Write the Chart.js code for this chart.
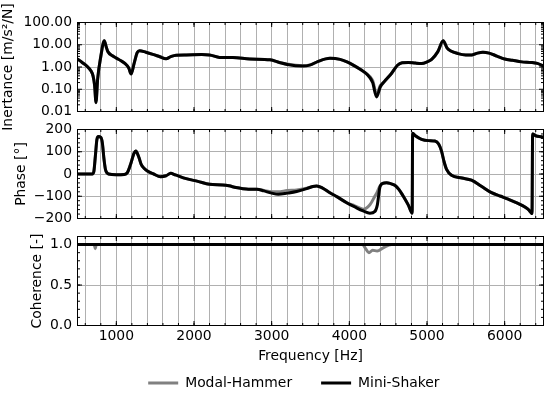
<!DOCTYPE html>
<html>
<head>
<meta charset="utf-8">
<script src="https://cdn.jsdelivr.net/npm/chart.js@4"></script>
<style>
  html, body { margin: 0; padding: 0; background: #fff; overflow: hidden; width: 550px; height: 394px; }
  canvas { position: absolute; left: 0; }
</style>
</head>
<body>
<canvas id="inertance" width="550" height="145" style="top:0px"></canvas>
<canvas id="phase" width="550" height="106" style="top:120px"></canvas>
<canvas id="coherence" width="550" height="174" style="top:226px"></canvas>
<script>
// FRF comparison plot: inertance, phase and coherence for hammer vs shaker excitation

// Inertance [m/s²/N]
const inertanceFreq = [
    500, 560, 620, 670, 700, 720, 738, 760, 800, 845,
    870, 890, 950, 1000, 1060, 1110, 1160, 1190, 1230, 1270,
    1300, 1380, 1470, 1560, 1640, 1700, 1770, 1900, 2100, 2200,
    2330, 2500, 2720, 2980, 3100, 3200, 3400, 3500, 3600, 3750,
    3880, 3970, 4050, 4150, 4220, 4300, 4350, 4400, 4450, 4540,
    4620, 4680, 4760, 4850, 4930, 5000, 5060, 5140, 5208, 5260,
    5300, 5400, 5500, 5580, 5650, 5720, 5800, 5900, 6000, 6100,
    6220, 6350, 6420, 6500
];
const inertanceShaker = [
    2.3, 1.6, 1.1, 0.7, 0.4, 0.15, 0.025, 0.3, 3, 15,
    8, 5, 3.2, 2.5, 1.9, 1.45, 0.9, 0.48, 1.5, 4.5,
    5.4, 4.6, 3.7, 2.9, 2.35, 2.9, 3.4, 3.5, 3.6, 3.5,
    2.7, 2.65, 2.3, 2.1, 1.6, 1.3, 1.1, 1.25, 1.8, 2.45,
    2.2, 1.7, 1.22, 0.75, 0.5, 0.2, 0.045, 0.13, 0.22, 0.5,
    1.2, 1.55, 1.6, 1.5, 1.45, 1.7, 2.2, 4.9, 15, 7,
    5.4, 4, 3.5, 3.5, 4.2, 4.6, 4.2, 3.1, 2.3, 2.0,
    1.7, 1.6, 1.45, 1.1
];
const inertanceHammer = [
    2.3, 1.6, 1.1, 0.7, 0.4, 0.16, 0.03, 0.3, 3, 15,
    8, 5, 3.2, 2.5, 1.9, 1.45, 0.9, 0.5, 1.5, 4.5,
    5.4, 4.6, 3.7, 2.9, 2.35, 2.9, 3.4, 3.5, 3.6, 3.5,
    2.7, 2.65, 2.3, 2.1, 1.6, 1.35, 1.15, 1.25, 1.8, 2.45,
    2.2, 1.7, 1.22, 0.75, 0.5, 0.25, 0.06, 0.15, 0.22, 0.5,
    1.2, 1.55, 1.6, 1.5, 1.45, 1.7, 2.2, 4.9, 15, 7,
    5.4, 4, 3.5, 3.5, 4.2, 4.6, 4.2, 3.1, 2.3, 2.0,
    1.7, 1.6, 1.45, 1.1
];

// Phase [°]
const phaseFreq = [
    500, 690, 710, 730, 750, 770, 800, 820, 840, 860,
    880, 900, 1000, 1100, 1140, 1180, 1230, 1250, 1290, 1320,
    1360, 1400, 1480, 1570, 1640, 1700, 1760, 1900, 2050, 2200,
    2370, 2450, 2540, 2630, 2700, 2810, 2900, 3000, 3085, 3200,
    3322, 3450, 3530, 3580, 3650, 3750, 3850, 3965, 4070, 4178,
    4265, 4330, 4360, 4393, 4430, 4480, 4530, 4586, 4640, 4693,
    4760, 4809, 4815, 4850, 4930, 5020, 5101, 5150, 5187, 5220,
    5252, 5316, 5450, 5573, 5700, 5831, 5950, 6045, 6217, 6300,
    6346, 6352, 6360, 6400, 6474, 6500
];
const phaseShaker = [
    0, 0, 10, 80, 155, 168, 165, 140, 70, 20,
    5, 0, -3, -2, 5, 40, 95, 103, 75, 43,
    25, 13, 0, -12, -8, 3, -4, -21, -33, -46,
    -49, -53, -61, -66, -68, -68, -76, -86, -91, -86,
    -79, -66, -56, -54, -62, -84, -104, -129, -148, -166,
    -176, -168, -140, -60, -42, -39, -43, -51, -70, -99,
    -140, -176, 183, 172, 156, 150, 148, 135, 103, 55,
    21, -6, -18, -28, -55, -84, -100, -113, -140, -158,
    -176, -178, 180, 172, 167, 165
];
const phaseHammer = [
    0, 0, 10, 80, 155, 168, 165, 140, 70, 20,
    5, 0, -3, -2, 5, 40, 95, 103, 75, 43,
    25, 13, 0, -12, -8, 3, -4, -21, -33, -46,
    -49, -53, -61, -66, -68, -68, -74, -80, -80, -74,
    -72, -64, -56, -54, -62, -84, -104, -129, -143, -158,
    -138, -99, -80, -55, -42, -39, -43, -51, -70, -99,
    -140, -176, 183, 172, 156, 150, 148, 135, 103, 55,
    21, -6, -18, -28, -55, -84, -100, -113, -140, -158,
    -176, -178, 180, 172, 167, 165
];

// Coherence [-]
const coherenceHammerFreq = [500, 715, 728, 742, 4170, 4210, 4252, 4300, 4358, 4436, 4544, 6500];
const coherenceHammer = [1, 1, 0.95, 1, 1, 0.95, 0.90, 0.93, 0.92, 0.96, 1, 1];
const coherenceShakerFreq = [500, 6500];
const coherenceShaker = [1, 1];

// Ticks
const freqLabels = [1000, 2000, 3000, 4000, 5000, 6000];
const freqGrid = [];
for (let f = 600; f <= 6400; f += 200) freqGrid.push(f);
const inertanceTicks = [0.01, 0.1, 1, 10, 100];
const phaseTicks = [-200, -100, 0, 100, 200];
const coherenceTicks = [0, 0.5, 1.0];

const inertanceMinor = [];
[0.01, 0.1, 1, 10].forEach(d => { for (let k = 2; k <= 9; k++) inertanceMinor.push(k * d); });
const phaseMinor = [];
for (let p = -200; p <= 200; p += 20) phaseMinor.push(p);
const coherenceMinor = [];
for (let c = 0; c <= 11; c++) coherenceMinor.push(c / 10);

const GRID = '#b0b0b0';
const HAMMER = '#808080';
const SHAKER = '#000000';

Chart.defaults.font.family = "'DejaVu Sans', sans-serif";
Chart.defaults.font.size = 13.9;
Chart.defaults.color = '#000';

function toPoints(xs, ys) {
    return xs.map((x, i) => ({ x: x, y: ys[i] }));
}

function lineDataset(label, xs, ys, color) {
    return {
        label: label,
        data: toPoints(xs, ys),
        borderColor: color,
        backgroundColor: color,
        borderWidth: 3,
        pointBorderWidth: 3,
        pointRadius: 0,
        pointHoverRadius: 0,
        borderJoinStyle: 'round',
        cubicInterpolationMode: 'monotone',
        fill: false
    };
}

// no extra room for half tick labels, the layout padding does it
function noLabelPadding(s) {
    s.paddingTop = 0;
    s.paddingBottom = 0;
    s.paddingLeft = 0;
    s.paddingRight = 0;
}

// Frame with inward tick marks on all four sides (matplotlib look)
function framePlugin(yMajor, yMinor) {
    return {
        id: 'frame',
        afterDraw(chart) {
            const { ctx, chartArea: a } = chart;
            const xs = chart.scales.x, ys = chart.scales.y;
            ctx.save();
            ctx.strokeStyle = '#000';
            ctx.lineWidth = 1;
            ctx.beginPath();
            const xTick = (v, len) => {
                const p = xs.getPixelForValue(v);
                ctx.moveTo(p, a.top); ctx.lineTo(p, a.top + len);
                ctx.moveTo(p, a.bottom); ctx.lineTo(p, a.bottom - len);
            };
            const yTick = (v, len) => {
                const p = ys.getPixelForValue(v);
                ctx.moveTo(a.left, p); ctx.lineTo(a.left + len, p);
                ctx.moveTo(a.right, p); ctx.lineTo(a.right - len, p);
            };
            freqGrid.forEach(v => xTick(v, 2.5));
            freqLabels.forEach(v => xTick(v, 4.5));
            yMinor.forEach(v => yTick(v, 2.5));
            yMajor.forEach(v => yTick(v, 4.5));
            ctx.stroke();
            ctx.strokeRect(a.left, a.top, a.right - a.left, a.bottom - a.top);
            ctx.restore();
        }
    };
}

function freqScale(height, showLabels) {
    return {
        type: 'linear',
        min: 500,
        max: 6500,
        afterBuildTicks: s => { s.ticks = freqGrid.map(v => ({ value: v })); },
        afterFit: s => { s.height = height; noLabelPadding(s); },
        grid: { color: GRID, lineWidth: 1, drawTicks: false },
        border: { display: false },
        ticks: {
            display: showLabels,
            autoSkip: false,
            maxRotation: 0,
            padding: 3,
            callback: v => freqLabels.includes(v) ? String(v) : ''
        },
        title: {
            display: showLabels,
            text: 'Frequency [Hz]',
            padding: { top: 0, bottom: -17.2 }
        }
    };
}

function valueScale(extra, width, ticks, title, titlePad, label) {
    return Object.assign({
        afterBuildTicks: s => { s.ticks = ticks.map(v => ({ value: v })); },
        afterFit: s => { s.width = width; noLabelPadding(s); },
        grid: { color: GRID, lineWidth: 1, drawTicks: false },
        border: { display: false },
        ticks: { padding: 5.5, autoSkip: false, callback: label },
        title: { display: true, text: title, padding: { top: titlePad, bottom: 0 } }
    }, extra);
}

const baseOptions = {
    responsive: false,
    animation: false,
    devicePixelRatio: 1,
    events: []
};

// Inertance panel (canvas runs lower so the long axis title is not cut)
new Chart(document.getElementById('inertance'), {
    type: 'line',
    data: {
        datasets: [
            lineDataset('Mini-Shaker', inertanceFreq, inertanceShaker, SHAKER),
            lineDataset('Modal-Hammer', inertanceFreq, inertanceHammer, HAMMER)
        ]
    },
    options: Object.assign({}, baseOptions, {
        layout: { padding: { top: 22.5, bottom: 33.5, left: 0, right: 6.5 } },
        scales: {
            x: freqScale(0, false),
            y: valueScale({ type: 'logarithmic', min: 0.01, max: 100 }, 77.5,
                inertanceTicks, 'Inertance [m/s²/N]', 0, v => Number(v).toFixed(2))
        },
        plugins: { legend: { display: false }, tooltip: { enabled: false } }
    }),
    plugins: [framePlugin(inertanceTicks, inertanceMinor)]
});

// Phase panel
new Chart(document.getElementById('phase'), {
    type: 'line',
    data: {
        datasets: [
            lineDataset('Mini-Shaker', phaseFreq, phaseShaker, SHAKER),
            lineDataset('Modal-Hammer', phaseFreq, phaseHammer, HAMMER)
        ]
    },
    options: Object.assign({}, baseOptions, {
        layout: { padding: { top: 9.5, bottom: 7.5, left: 13.2, right: 6.5 } },
        scales: {
            x: freqScale(0, false),
            y: valueScale({ type: 'linear', min: -200, max: 200 }, 64.3,
                phaseTicks, 'Phase [°]', 0, v => v < 0 ? '\u2212' + Math.abs(v) : String(v))
        },
        plugins: { legend: { display: false }, tooltip: { enabled: false } }
    }),
    plugins: [framePlugin(phaseTicks, phaseMinor)]
});

// Coherence panel with shared legend
new Chart(document.getElementById('coherence'), {
    type: 'line',
    data: {
        datasets: [
            lineDataset('Mini-Shaker', coherenceShakerFreq, coherenceShaker, SHAKER),
            lineDataset('Modal-Hammer', coherenceHammerFreq, coherenceHammer, HAMMER)
        ]
    },
    options: Object.assign({}, baseOptions, {
        layout: { padding: { top: 10.5, bottom: 0, left: 44.2, right: 6.5 } },
        scales: {
            x: freqScale(21.6, true),
            y: valueScale({ type: 'linear', min: 0, max: 1.1 }, 33.3,
                coherenceTicks, 'Coherence [-]', -15.2, v => Number(v).toFixed(1))
        },
        plugins: {
            tooltip: { enabled: false },
            legend: {
                position: 'bottom',
                reverse: true,
                labels: {
                    usePointStyle: true,
                    pointStyle: 'line',
                    pointStyleWidth: 30,
                    padding: 29,
                    color: '#000'
                }
            }
        }
    }),
    plugins: [framePlugin(coherenceTicks, coherenceMinor)]
});
</script>
</body>
</html>
